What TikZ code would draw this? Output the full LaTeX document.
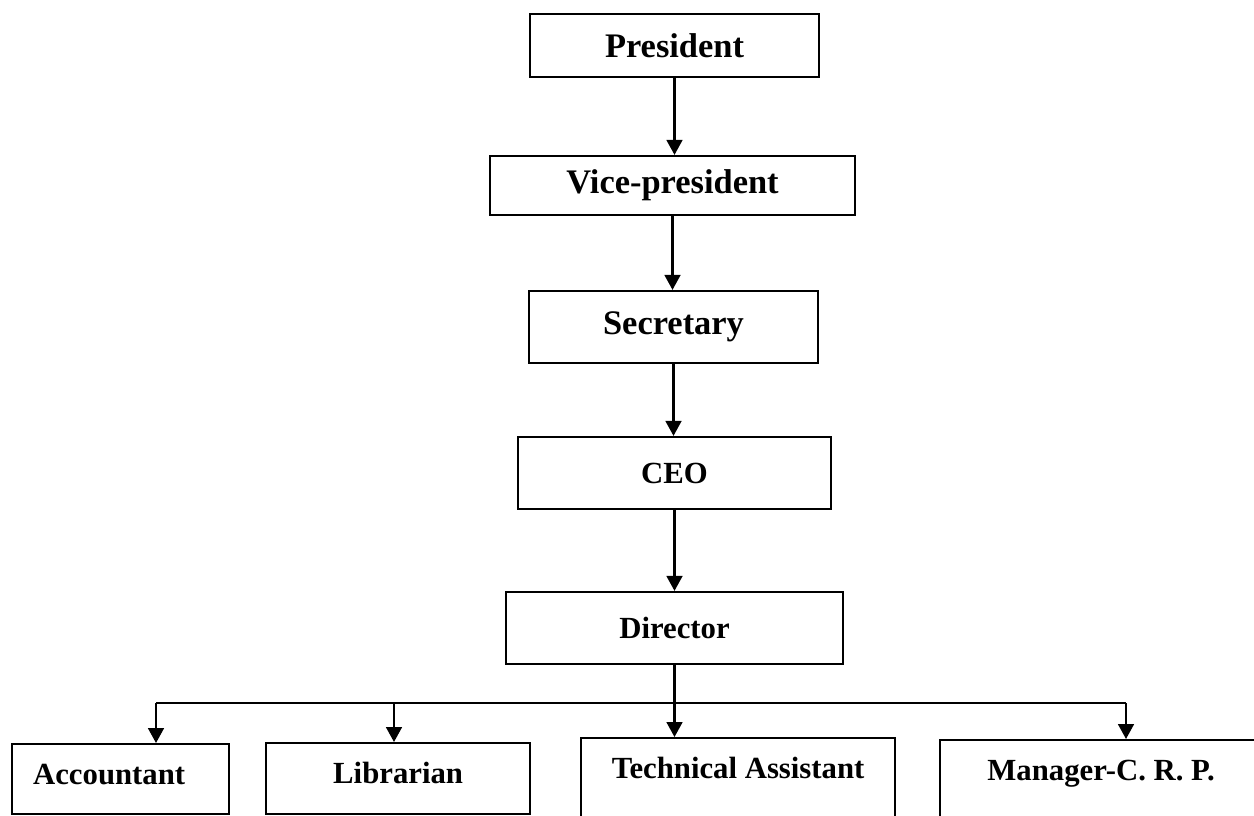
\documentclass[tikz,border=0pt]{standalone}
\usepackage{fontspec}
\setmainfont{Liberation Serif}
\usetikzlibrary{arrows.meta}
\newcommand{\topfont}{\fontsize{19.6}{22}\selectfont\bfseries}
\newcommand{\lowfont}{\fontsize{17.5}{20}\selectfont\bfseries}
\begin{document}
\begin{tikzpicture}[x=0.02cm, y=0.02cm]
\tikzstyle{every node}+=[inner sep=0pt]
\tikzstyle{post}=[draw=black, line width=1.3pt, font=\topfont]
\tikzstyle{unit}=[draw=black, line width=1.3pt, font=\lowfont, anchor=north west, text height=0.8cm]
\tikzstyle{link}=[black, line width=1.2pt, -{Triangle[length=8.5pt,width=9pt]}]
\clip (0,0) rectangle (1254,-815);
% chain of command
\node [post, minimum width=5.78cm, minimum height=1.26cm] (pres) at (674.5,-45.5) {President};
\node [post, minimum width=7.3cm, minimum height=1.18cm] (vp) at (672.5,-185.5) {Vice-president};
\node [post, minimum width=5.78cm, minimum height=1.44cm] (sec) at (673.5,-327) {Secretary};
\node [post, font=\lowfont, minimum width=6.26cm, minimum height=1.44cm] (ceo) at (674.5,-473) {CEO};
\node [post, font=\lowfont, minimum width=6.74cm, minimum height=1.44cm] (dir) at (674.5,-628) {Director};
% staff under the director
\node [unit, text width=3.5cm, align=left, inner xsep=0.42cm, text depth=0.6cm] (acc) at (11,-743) {Accountant};
\node [unit, minimum width=5.28cm, text depth=0.62cm] (lib) at (265,-742) {Librarian};
\node [unit, minimum width=6.28cm, text depth=1.2cm] (ta) at (580,-737) {Technical Assistant};
\node [unit, minimum width=6.44cm, text depth=1.2cm] (man) at (939,-739) {Manager-C. R. P.};
\draw [link] (pres.south) -- (pres.south |- vp.north);
\draw [link] (vp.south) -- (vp.south |- sec.north);
\draw [link] (sec.south) -- (sec.south |- ceo.north);
\draw [link] (ceo.south) -- (ceo.south |- dir.north);
\draw [link] (dir.south) -- (dir.south |- ta.north);
\coordinate (busL) at (156,-703);
\coordinate (busM) at (394,-703);
\coordinate (busR) at (1126,-703);
\draw [black, line width=1pt] (busL) -- (busR);
\draw [link] (busL) -- (busL |- acc.north);
\draw [link] (busM) -- (busM |- lib.north);
\draw [link] (busR) -- (busR |- man.north);
\end{tikzpicture}
\end{document}
